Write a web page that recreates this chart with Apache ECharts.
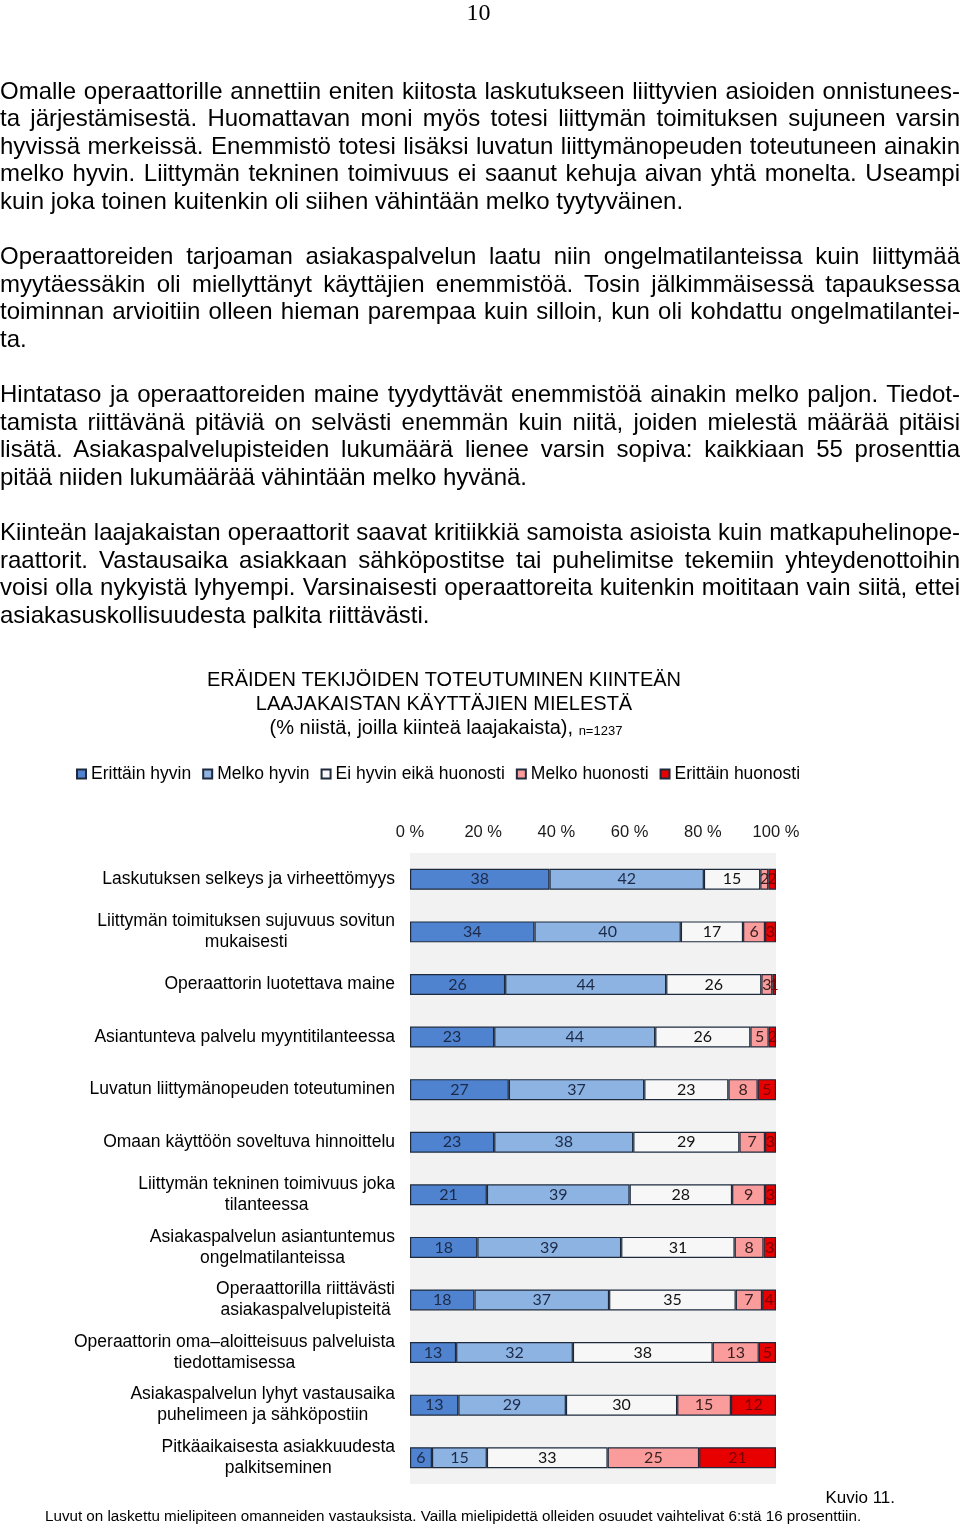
<!DOCTYPE html>
<html><head><meta charset="utf-8">
<script src="https://cdn.jsdelivr.net/npm/echarts@6/dist/echarts.min.js"></script>
<style>
html,body{margin:0;padding:0;background:#fff;}
#page{position:relative;width:960px;height:1529px;overflow:hidden;background:#fff;}
#chart{position:absolute;left:0;top:0;width:960px;height:1529px;}
#pnum{position:absolute;top:0;left:0;width:957px;text-align:center;font-family:"Liberation Serif","DejaVu Serif",serif;font-size:24px;line-height:24px;color:#000;}
#text{position:absolute;left:0;top:76.5px;width:960px;font-family:"Liberation Sans",Arial,sans-serif;font-size:24px;line-height:27.6px;color:#000;}
.ln{height:27.6px;white-space:nowrap;}
.ln.jj{text-align:justify;text-align-last:justify;}
</style>
</head><body>
<div id="page">
<div id="chart"></div>
<div id="pnum">10</div>
<div id="text">
<div class="ln j">Omalle operaattorille annettiin eniten kiitosta laskutukseen liittyvien asioiden onnistunees-</div>
<div class="ln j">ta järjestämisestä. Huomattavan moni myös totesi liittymän toimituksen sujuneen varsin</div>
<div class="ln j">hyvissä merkeissä. Enemmistö totesi lisäksi luvatun liittymänopeuden toteutuneen ainakin</div>
<div class="ln j">melko hyvin. Liittymän tekninen toimivuus ei saanut kehuja aivan yhtä monelta. Useampi</div>
<div class="ln">kuin joka toinen kuitenkin oli siihen vähintään melko tyytyväinen.</div>
<div class="ln"></div>
<div class="ln j">Operaattoreiden tarjoaman asiakaspalvelun laatu niin ongelmatilanteissa kuin liittymää</div>
<div class="ln j">myytäessäkin oli miellyttänyt käyttäjien enemmistöä. Tosin jälkimmäisessä tapauksessa</div>
<div class="ln j">toiminnan arvioitiin olleen hieman parempaa kuin silloin, kun oli kohdattu ongelmatilantei-</div>
<div class="ln">ta.</div>
<div class="ln"></div>
<div class="ln j">Hintataso ja operaattoreiden maine tyydyttävät enemmistöä ainakin melko paljon. Tiedot-</div>
<div class="ln j">tamista riittävänä pitäviä on selvästi enemmän kuin niitä, joiden mielestä määrää pitäisi</div>
<div class="ln j">lisätä. Asiakaspalvelupisteiden lukumäärä lienee varsin sopiva: kaikkiaan 55 prosenttia</div>
<div class="ln">pitää niiden lukumäärää vähintään melko hyvänä.</div>
<div class="ln"></div>
<div class="ln j">Kiinteän laajakaistan operaattorit saavat kritiikkiä samoista asioista kuin matkapuhelinope-</div>
<div class="ln j">raattorit. Vastausaika asiakkaan sähköpostitse tai puhelimitse tekemiin yhteydenottoihin</div>
<div class="ln j">voisi olla nykyistä lyhyempi. Varsinaisesti operaattoreita kuitenkin moititaan vain siitä, ettei</div>
<div class="ln">asiakasuskollisuudesta palkita riittävästi.</div>
</div>
</div>
<script>
// justify lines; shrink word spacing if a line is too long
document.querySelectorAll('.ln.j').forEach(function(el){
  var span = document.createElement('span');
  span.textContent = el.textContent;
  el.textContent = '';
  el.appendChild(span);
  var w = span.getBoundingClientRect().width;
  var n = (span.textContent.match(/ /g) || []).length;
  if (w > 958 && n > 0) { el.style.wordSpacing = (-(w - 958) / n) + 'px'; }
  el.classList.add('jj');
});

const categories = [
  'Laskutuksen selkeys ja virheettömyys',
  'Liittymän toimituksen sujuvuus sovitun\nmukaisesti',
  'Operaattorin luotettava maine',
  'Asiantunteva palvelu myyntitilanteessa',
  'Luvatun liittymänopeuden toteutuminen',
  'Omaan käyttöön soveltuva hinnoittelu',
  'Liittymän tekninen toimivuus joka\ntilanteessa',
  'Asiakaspalvelun asiantuntemus\nongelmatilanteissa',
  'Operaattorilla riittävästi\nasiakaspalvelupisteitä',
  'Operaattorin oma–aloitteisuus palveluista\ntiedottamisessa',
  'Asiakaspalvelun lyhyt vastausaika\npuhelimeen ja sähköpostiin',
  'Pitkäaikaisesta asiakkuudesta\npalkitseminen'
];
const seriesNames = ['Erittäin hyvin', 'Melko hyvin', 'Ei hyvin eikä huonosti', 'Melko huonosti', 'Erittäin huonosti'];
// values (labels show the rounded figures)
const erittainHyvin   = [38.1, 34, 26, 23, 27, 23, 21, 18.4, 17.6, 12.6, 13.2, 6];
const melkoHyvin      = [42.2, 40, 44, 44, 37, 38, 39, 39.3, 36.8, 31.9, 29.4, 15];
const eiHyvinEikaHuon = [15.4, 17, 26, 26, 23, 29, 28, 31.0, 34.6, 38.2, 30.4, 33];
const melkoHuonosti   = [2.2, 6, 3, 5, 8, 7, 9, 7.9, 7.2, 12.6, 14.7, 25];
const erittainHuon    = [2.1, 3, 1, 2, 5, 3, 3, 3.4, 3.8, 4.7, 12.3, 21];
const xTickValues = [0, 20, 40, 60, 80, 100];

const seriesData = [erittainHyvin, melkoHyvin, eiHyvinEikaHuon, melkoHuonosti, erittainHuon];
const colors = ['#4f82cf', '#8db3e2', '#f7f7f7', '#fb9c9c', '#e80000'];
const labelColors = ['#1c2a48', '#1c2a48', '#111111', '#3a2020', '#7a0000'];
const SANS = '"Liberation Sans", Arial, sans-serif';

const chart = echarts.init(document.getElementById('chart'), null, {renderer: 'canvas'});
chart.setOption({
  animation: false,
  backgroundColor: 'transparent',
  textStyle: {fontFamily: SANS},
  grid: {
    left: 410, width: 366, top: 853, height: 631,
    show: true, backgroundColor: '#f2f2f2', borderWidth: 0,
    containLabel: false, outerBoundsMode: 'none'
  },
  legend: {
    left: 71, top: 760, icon: 'rect', itemWidth: 9, itemHeight: 9, itemGap: 11,
    textStyle: {fontFamily: SANS, fontSize: 17.5, color: '#000'},
    data: seriesNames
  },
  xAxis: {
    type: 'value', position: 'top', min: xTickValues[0], max: xTickValues[xTickValues.length - 1], interval: 20,
    axisLine: {show: false}, axisTick: {show: false}, splitLine: {show: false},
    axisLabel: {formatter: '{value} %', fontFamily: SANS, fontSize: 16.5, color: '#1a1a1a', margin: 12}
  },
  yAxis: {
    type: 'category', inverse: true, data: categories,
    axisLine: {show: false}, axisTick: {show: false}, splitLine: {show: false},
    axisLabel: {
      interval: 0, margin: 15, align: 'right', color: '#000', fontFamily: SANS, fontSize: 17.5, lineHeight: 21,
      formatter: function (v) { return v.split('\n').map(function (s) { return '{c|' + s + '}'; }).join('\n'); },
      rich: {c: {align: 'center', fontFamily: SANS, fontSize: 17.5, lineHeight: 21, color: '#000'}}
    }
  },
  graphic: [
    {type: 'text', x: 444, y: 680, style: {text: 'ERÄIDEN TEKIJÖIDEN TOTEUTUMINEN KIINTEÄN', fontFamily: SANS, fontSize: 20, fill: '#000', align: 'center', verticalAlign: 'middle'}},
    {type: 'text', x: 444, y: 704, style: {text: 'LAAJAKAISTAN KÄYTTÄJIEN MIELESTÄ', fontFamily: SANS, fontSize: 20, fill: '#000', align: 'center', verticalAlign: 'middle'}},
    {type: 'text', x: 446, y: 728, style: {text: '{a|(% niistä, joilla kiinteä laajakaista),} {b|n=1237}', fontFamily: SANS, fontSize: 20, fill: '#000', align: 'center', verticalAlign: 'middle',
      rich: {a: {fontFamily: SANS, fontSize: 20, fill: '#000'}, b: {fontFamily: SANS, fontSize: 13, fill: '#000', padding: [6, 0, 0, 0]}}}},
    {type: 'text', x: 895, y: 1498, style: {text: 'Kuvio 11.', fontFamily: SANS, fontSize: 17, fill: '#000', align: 'right', verticalAlign: 'middle'}},
    {type: 'text', x: 45, y: 1517, style: {text: 'Luvut on laskettu mielipiteen omanneiden vastauksista. Vailla mielipidettä olleiden osuudet vaihtelivat 6:stä 16 prosenttiin.', fontFamily: SANS, fontSize: 15.2, fill: '#000', align: 'left', verticalAlign: 'middle'}}
  ],
  series: seriesNames.map(function (name, i) {
    return {
      name: name, type: 'bar', stack: 'total', barWidth: 21,
      data: seriesData[i],
      itemStyle: {color: colors[i], borderColor: '#1e2a3c', borderWidth: 1.2},
      label: {show: true, position: 'inside', fontFamily: 'Lato, "Open Sans", sans-serif', fontSize: 16, color: labelColors[i],
        formatter: function (p) { return String(Math.round(p.value)); }}
    };
  })
});
</script>
</body></html>
